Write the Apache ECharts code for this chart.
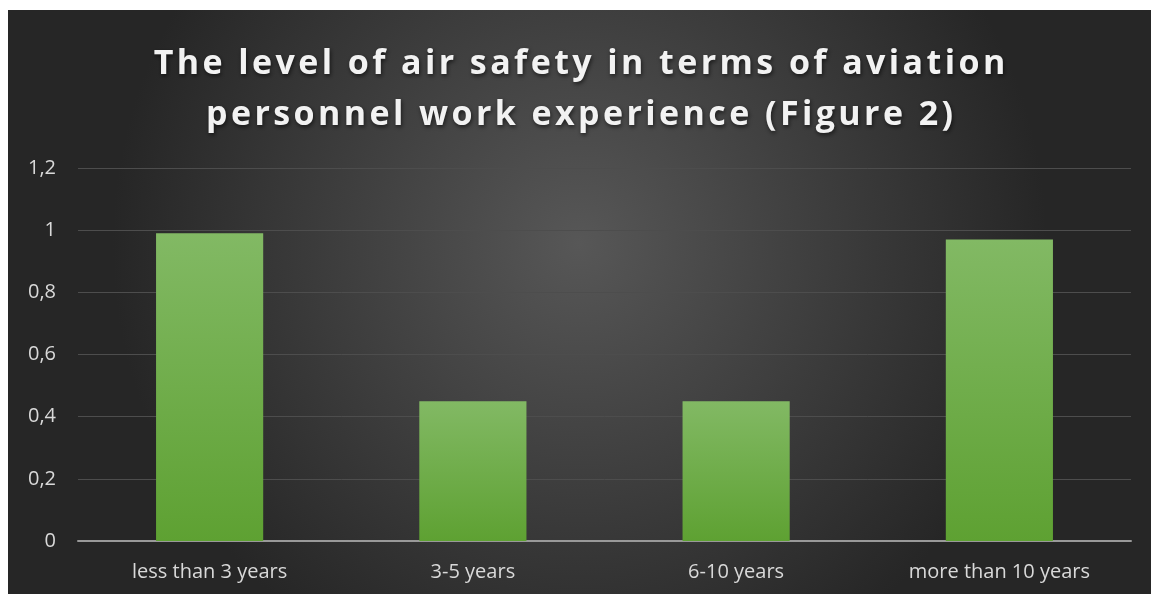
<!DOCTYPE html>
<html>
<head>
<meta charset="utf-8">
<script src="https://cdn.jsdelivr.net/npm/echarts@6/dist/echarts.min.js"></script>
<style>
  html, body { margin: 0; padding: 0; background: #fff; }
  #chart { position: absolute; left: 8px; top: 10px; width: 1143px; height: 584px; }
</style>
</head>
<body>
<div id="chart"></div>
<script>
const categories = ['less than 3 years', '3-5 years', '6-10 years', 'more than 10 years']
const values = [0.99, 0.45, 0.45, 0.97]
const titleLines = ['The level of air safety in terms of aviation', 'personnel work experience (Figure 2)']

// widen the title a bit the way the original's letter spacing does
const spaced = s => s.split('').join('\u200a')

const chart = echarts.init(document.getElementById('chart'))
chart.setOption({
    backgroundColor: {
        type: 'radial', x: 0.5, y: 0.4, r: 0.8,
        colorStops: [
            { offset: 0, color: '#575757' },
            { offset: 1, color: '#262626' },
        ],
    },
    title: {
        text: titleLines.map(spaced).join('\n'),
        left: 'center',
        top: 24,
        textStyle: {
            color: '#f2f2f2',
            fontFamily: 'Open Sans',
            fontWeight: 'bold',
            fontSize: 34,
            lineHeight: 51,
            textShadowColor: 'rgba(0,0,0,0.6)',
            textShadowBlur: 4,
            textShadowOffsetX: 1,
            textShadowOffsetY: 2,
        },
    },
    grid: { left: 70, right: 20, top: 158, bottom: 53 },
    xAxis: {
        type: 'category',
        data: categories,
        axisTick: { show: false },
        axisLine: { lineStyle: { color: '#999', width: 2 } },
        axisLabel: { color: '#d9d9d9', fontFamily: 'Open Sans', fontSize: 20, margin: 21 },
    },
    yAxis: {
        type: 'value',
        min: 0,
        max: 1.2,
        interval: 0.2,
        axisLine: { show: false },
        axisTick: { show: false },
        splitLine: { lineStyle: { color: '#4d4d4d', width: 1 } },
        axisLabel: {
            color: '#d9d9d9', fontFamily: 'Open Sans', fontSize: 20, margin: 22,
            formatter: v => String(Math.round(v * 10) / 10).replace('.', ','),
        },
    },
    series: [{
        type: 'bar',
        data: values,
        barWidth: '40.7%',
        itemStyle: {
            color: {
                type: 'linear', x: 0, y: 0, x2: 0, y2: 1,
                colorStops: [
                    { offset: 0, color: '#82b964' },
                    { offset: 1, color: '#5ea132' },
                ],
            },
        },
    }],
})
</script>
</body>
</html>
